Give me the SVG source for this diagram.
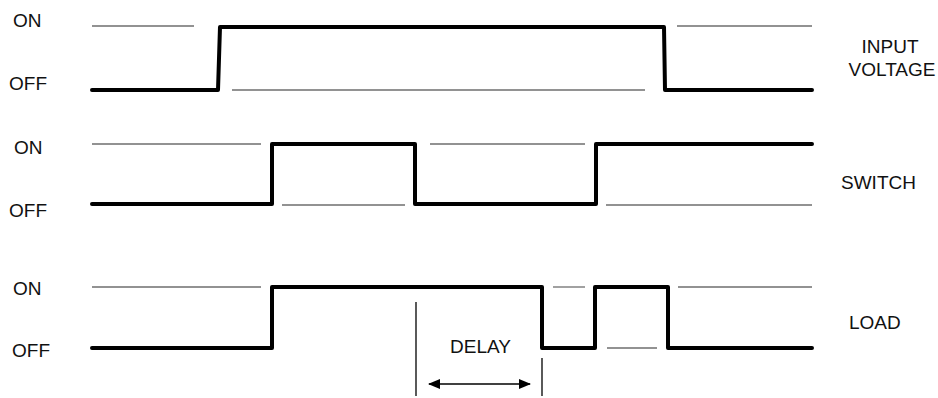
<svg xmlns="http://www.w3.org/2000/svg" width="938" height="398" viewBox="0 0 938 398">
<defs>
<style>
.t{font-family:"Liberation Sans",Arial,sans-serif;font-size:19px;fill:#111}
.sig{fill:none;stroke:#000;stroke-width:4;stroke-linejoin:round;stroke-linecap:round}
.g{stroke:#6e6e6e;stroke-width:1.3;fill:none}
.thin{stroke:#000;stroke-width:1.3;fill:none}
</style>
<marker id="ah" viewBox="0 0 12 10" refX="11" refY="5" markerWidth="12" markerHeight="10" markerUnits="userSpaceOnUse" orient="auto-start-reverse">
<path d="M0,0 L12,5 L0,10 Z" fill="#000"/>
</marker>
</defs>
<rect width="938" height="398" fill="#fff"/>
<g id="input-voltage">
<text class="t" x="13" y="27">ON</text>
<text class="t" x="9" y="90">OFF</text>
<line class="g" x1="92" y1="26" x2="194" y2="26"/>
<line class="g" x1="232" y1="90" x2="645" y2="90"/>
<line class="g" x1="677" y1="26" x2="812" y2="26"/>
<polyline class="sig" points="92,90 218,90 220,27 664,27 665,90 812,90"/>
<text class="t" x="890" y="53" text-anchor="middle">INPUT</text>
<text class="t" x="892" y="76" text-anchor="middle">VOLTAGE</text>
</g>
<g id="switch">
<text class="t" x="14" y="154">ON</text>
<text class="t" x="9" y="217">OFF</text>
<line class="g" x1="92" y1="144" x2="261" y2="144"/>
<line class="g" x1="282" y1="205" x2="405" y2="205"/>
<line class="g" x1="430" y1="144" x2="585" y2="144"/>
<line class="g" x1="606" y1="205" x2="812" y2="205"/>
<polyline class="sig" points="92,204 272,204 272,144 415,144 415,204 596,204 596,144 812,144"/>
<text class="t" x="841" y="189">SWITCH</text>
</g>
<g id="load">
<text class="t" x="13" y="295">ON</text>
<text class="t" x="12" y="357">OFF</text>
<line class="g" x1="92" y1="287" x2="261" y2="287"/>
<line class="g" x1="553" y1="287" x2="585" y2="287"/>
<line class="g" x1="607" y1="348" x2="657" y2="348"/>
<line class="g" x1="678" y1="287" x2="812" y2="287"/>
<polyline class="sig" points="92,348 272,348 272,287 542,287 542,348 595,348 595,287 668,287 668,348 812,348"/>
<text class="t" x="849" y="329">LOAD</text>
</g>
<g id="delay">
<text class="t" x="450" y="353">DELAY</text>
</g>
<g id="connectors">
<line class="thin" x1="416" y1="302" x2="416" y2="396"/>
<line class="thin" x1="542" y1="358" x2="542" y2="396"/>
<line class="thin" x1="429" y1="384" x2="530" y2="384" marker-start="url(#ah)" marker-end="url(#ah)"/>
</g>
</svg>
